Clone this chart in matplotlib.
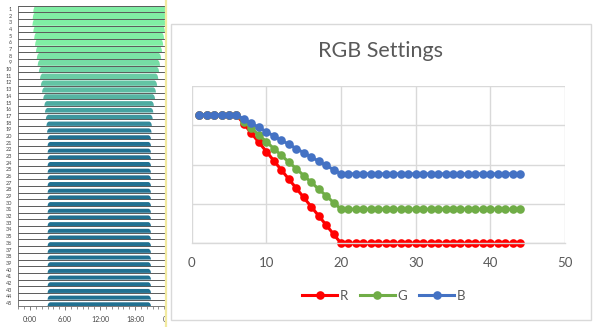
import matplotlib
matplotlib.use("Agg")
import matplotlib.pyplot as plt
from matplotlib.patches import Rectangle
from matplotlib.lines import Line2D
from matplotlib.ticker import MultipleLocator, FixedLocator
import numpy as np

# ---- Daily light schedule (one row per day) ----
rows = list(range(1, 46))
on_hours = [0.55, 0.45, 0.40, 0.55, 0.70, 0.85, 1.00, 1.15, 1.30, 1.50,
            1.70, 1.85, 2.05, 2.25, 2.45, 2.55, 2.70, 2.80, 2.90] + [3.0] * 26
off_hours = [23.50, 23.40, 23.30, 23.15, 23.00, 22.85, 22.65, 22.50, 22.30, 22.15,
             22.00, 21.80, 21.60, 21.45, 21.25, 21.15, 21.05, 20.90, 20.85] + [20.75] * 26
intensity = [1.0, 1.0, 1.0, 1.0, 1.0, 1.0, 0.97, 0.93, 0.90, 0.86,
             0.83, 0.80, 0.77, 0.74, 0.71, 0.69, 0.67, 0.65, 0.63] + [0.60] * 26
row_colors = ["#80eea4"] * 6 + ["#7de9a4", "#7ae3a5", "#76dca5", "#70d4a5", "#6acca5",
                                "#63c4a4", "#5cbca3", "#55b4a2", "#4eaca1", "#46a2a0",
                                "#3e979e", "#358b9b", "#2b7e97"] + ["#217191"] * 26
time_ticks = [0, 6, 12, 18, 24]
time_labels = ["0:00", "6:00", "12:00", "18:00", "0:00"]

# ---- RGB channel settings per day ----
day = list(range(1, 45))
red = [98, 98, 98, 98, 98, 98, 91, 84, 77, 70, 63, 56, 49, 42, 35, 28, 21, 14, 7] + [0] * 25
green = [98, 98, 98, 98, 98, 98, 92.9, 87.7, 82.6, 77.4, 72.3, 67.1, 62.0, 56.9, 51.7,
         46.6, 41.4, 36.3, 31.1] + [26] * 25
blue = [98, 98, 98, 98, 98, 98, 94.8, 91.6, 88.4, 85.1, 81.9, 78.7, 75.5, 72.3, 69.1,
        65.9, 62.6, 59.4, 56.2] + [53] * 25
x_ticks = [0, 10, 20, 30, 40, 50]

W, H = 603, 327
fig = plt.figure(figsize=(W / 100, H / 100), dpi=100)
fig.patch.set_facecolor("white")


def fx(px):
    return px / W


def fy(py):
    return 1 - py / H


# ---------------- left panel: schedule bars ----------------
ax1 = fig.add_axes([fx(18), fy(306.3), fx(170 - 18), (306.3 - 5.66) / H])
ax1.set_xlim(-2.06, 24.0)
ax1.set_ylim(45.5, 0.5)

ramp = [0.0, 0.08, 0.2, 0.42]
rise = [0.0, 0.5, 0.8, 1.0]
for r, s, e, h, c in zip(rows, on_hours, off_hours, intensity, row_colors):
    xs = [s + d for d in ramp] + [e - d for d in ramp[::-1]]
    fr = rise + rise[::-1]
    base = r + 0.5
    ys = [base - h * f for f in fr]
    ax1.fill(xs, ys, color=c, lw=0, zorder=2)

ax1.hlines(np.arange(0.5, 46.0, 1.0), -2.06, 24.0, color="#5a5a5a", lw=0.7, zorder=3)

ax1.set_yticks(rows)
ax1.set_yticklabels([str(r) for r in rows], fontsize=4.0, color="#444444", family="Lato")
ax1.tick_params(axis="y", length=0, pad=4.3)
ax1.xaxis.set_major_locator(FixedLocator(time_ticks))
ax1.set_xticklabels(time_labels, fontsize=5.0, color="#444444", family="Lato")
ax1.xaxis.set_minor_locator(MultipleLocator(1))
ax1.tick_params(axis="x", which="major", length=3, width=0.6, color="#666666", pad=4)
ax1.tick_params(axis="x", which="minor", length=2, width=0.5, color="#666666")
for sp in ["top", "right"]:
    ax1.spines[sp].set_visible(False)
for sp in ["left", "bottom"]:
    ax1.spines[sp].set_color("#777777")
    ax1.spines[sp].set_linewidth(0.7)
ax1.set_zorder(0)

# cover strip between the two panels, with the pale selection border
fig.patches.append(Rectangle((fx(167), 0), 1 - fx(167), 1, transform=fig.transFigure,
                             facecolor="white", edgecolor="none", zorder=5))
fig.lines.append(Line2D([fx(166.2), fx(166.2)], [0, 1], transform=fig.transFigure,
                        color="#f2eaa0", lw=1.6, zorder=6))

# chart frame
fig.patches.append(Rectangle((fx(171), fy(320)), fx(591 - 171), (320 - 24) / H,
                             transform=fig.transFigure, facecolor="white",
                             edgecolor="#d9d9d9", lw=1.0, zorder=7))

# ---------------- right panel: RGB settings ----------------
ax2 = fig.add_axes([fx(191.7), fy(243.3), fx(565 - 191.7), (243.3 - 86) / H])
ax2.set_zorder(10)
ax2.patch.set_alpha(0)
ax2.set_xlim(0, 50)
ax2.set_ylim(0, 120)
ax2.xaxis.set_major_locator(FixedLocator(x_ticks))
ax2.yaxis.set_major_locator(MultipleLocator(30))
ax2.grid(True, color="#d9d9d9", lw=1.0)
ax2.set_axisbelow(True)
ax2.set_yticklabels([])
ax2.tick_params(axis="y", length=0)
ax2.tick_params(axis="x", length=0, pad=10, labelsize=9.5, labelcolor="#595959")
for lab in ax2.get_xticklabels():
    lab.set_family("Lato")
for sp in ["top", "right", "left"]:
    ax2.spines[sp].set_visible(False)
ax2.spines["bottom"].set_color("#d9d9d9")
ax2.spines["bottom"].set_linewidth(1.0)

series = [("R", red, "#ff0000"), ("G", green, "#70ad47"), ("B", blue, "#4472c4")]
handles = []
for name, vals, col in series:
    ln, = ax2.plot(day, vals, color=col, lw=2.2, marker="o", markersize=6.2,
                   markeredgewidth=0, label=name, clip_on=False)
    handles.append(ln)

fig.text(fx(381), fy(51), "RGB Settings", ha="center", va="center", fontsize=15.5,
         color="#595959", family="Lato", zorder=12)

leg = fig.legend(handles=handles, loc="center", bbox_to_anchor=(fx(384), fy(295.7)),
                 ncol=3, frameon=False, handlelength=2.6, handletextpad=0.25,
                 columnspacing=0.9, prop={"family": "Lato", "size": 9.5})
leg.set_zorder(12)
for t in leg.get_texts():
    t.set_color("#595959")

fig.savefig("out.png", dpi=100, facecolor="white")
